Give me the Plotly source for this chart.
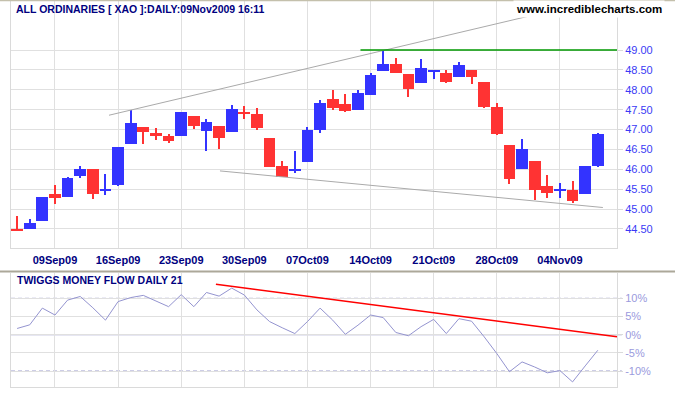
import plotly.graph_objects as go

# ---------------- data ----------------
dates = ["04Sep09", "07Sep09", "08Sep09", "09Sep09", "10Sep09", "11Sep09",
         "14Sep09", "15Sep09", "16Sep09", "17Sep09", "18Sep09",
         "21Sep09", "22Sep09", "23Sep09", "24Sep09", "25Sep09",
         "28Sep09", "29Sep09", "30Sep09", "01Oct09", "02Oct09",
         "05Oct09", "06Oct09", "07Oct09", "08Oct09", "09Oct09",
         "12Oct09", "13Oct09", "14Oct09", "15Oct09", "16Oct09",
         "19Oct09", "20Oct09", "21Oct09", "22Oct09", "23Oct09",
         "26Oct09", "27Oct09", "28Oct09", "29Oct09", "30Oct09",
         "02Nov09", "03Nov09", "04Nov09", "05Nov09", "06Nov09", "09Nov09"]

open_ = [44.50, 44.50, 44.69, 45.38, 45.31, 45.82, 46.01, 45.46, 45.61, 46.64,
         47.07, 46.91, 46.85, 46.84, 47.34, 46.97, 47.09, 46.94, 47.45, 47.39,
         46.79, 46.09, 45.96, 46.19, 46.99, 47.77, 47.64, 47.49, 47.87, 48.47,
         48.65, 48.40, 48.17, 48.45, 48.42, 48.32, 48.50, 48.20, 47.57, 46.61,
         46.01, 46.21, 45.58, 45.46, 45.48, 45.38, 46.09]
high = [44.83, 44.75, 45.31, 45.61, 45.81, 46.09, 46.01, 45.88, 46.56, 47.48,
        47.07, 47.04, 46.89, 47.44, 47.34, 47.27, 47.09, 47.62, 47.59, 47.54,
        46.79, 46.21, 46.46, 47.07, 47.74, 47.99, 47.89, 47.99, 48.42, 48.97,
        48.80, 48.40, 48.77, 48.50, 48.50, 48.70, 48.50, 48.20, 47.67, 46.61,
        46.76, 46.21, 45.86, 45.66, 45.71, 46.09, 46.91]
low = [44.44, 44.50, 44.69, 45.14, 45.31, 45.79, 45.26, 45.36, 45.58, 46.64,
       46.64, 46.74, 46.66, 46.84, 47.02, 46.46, 46.51, 46.94, 47.27, 46.99,
       46.07, 45.81, 45.91, 46.19, 46.91, 47.49, 47.44, 47.49, 47.87, 48.47,
       48.42, 47.82, 48.17, 48.27, 48.17, 48.32, 48.15, 47.54, 46.86, 45.63,
       46.01, 45.23, 45.28, 45.28, 45.16, 45.38, 46.06]
close = [44.46, 44.65, 45.31, 45.29, 45.78, 46.01, 45.39, 45.51, 46.56, 47.17,
         46.94, 46.84, 46.71, 47.44, 47.09, 47.19, 46.79, 47.52, 47.39, 47.04,
         46.07, 45.81, 46.01, 46.99, 47.67, 47.54, 47.47, 47.92, 48.37, 48.65,
         48.42, 48.02, 48.55, 48.50, 48.20, 48.62, 48.32, 47.57, 46.89, 45.76,
         46.51, 45.48, 45.41, 45.51, 45.21, 46.09, 46.89]

money_flow = [1.7, 2.7, 7.3, 5.4, 9.5, 10.5, 7.4, 4.0, 9.1, 10.2,
              10.8, 9.3, 7.7, 11.0, 7.7, 11.6, 10.6, 12.8, 10.9, 6.8,
              3.6, 1.9, 0.3, 3.6, 7.3, 4.0, 0.1, 2.6, 5.4, 4.7,
              0.6, -0.3, 2.2, 4.2, 0.3, 4.4, 3.7, -0.6, -5.2, -10.2,
              -7.5, -8.9, -10.5, -9.9, -13.0, -8.6, -4.3]

# trend lines drawn on the chart (bar index, value)
upper_trend_x = [7.28, 46.4]
upper_trend_y = [47.36, 50.29]
lower_trend_x = [16.07, 46.4]
lower_trend_y = [45.96, 45.04]
resist_x = [27.2, 47.52]
resist_y = [49.0, 49.0]
mf_trend_x = [15.75, 47.52]
mf_trend_y = [13.85, -0.6]

price_ticks = [44.5, 45.0, 45.5, 46.0, 46.5, 47.0, 47.5, 48.0, 48.5, 49.0]
mf_ticks = [-10, -5, 0, 5, 10]
mf_tick_text = ["-10%", "-5%", "0%", "5%", "10%"]
date_tick_labels = ["09Sep09", "16Sep09", "23Sep09", "30Sep09", "07Oct09",
                    "14Oct09", "21Oct09", "28Oct09", "04Nov09"]

# ---------------- figure ----------------
BLUE = "#3333FF"
RED = "#FF3333"
GRID = "#E0E0E0"
FONT = "Liberation Sans, Arial, sans-serif"

idx = list(range(len(dates)))
date_tick_vals = [dates.index(d) for d in date_tick_labels]
colors = [BLUE if c >= o else RED for o, c in zip(open_, close)]
body_base = [min(o, c) for o, c in zip(open_, close)]
body_h = [max(abs(c - o), 0.045) for o, c in zip(open_, close)]
wick_h = [h - l for h, l in zip(high, low)]

fig = go.Figure()
fig.add_trace(go.Bar(x=idx, y=wick_h, base=low, width=0.16,
                     marker=dict(color=colors, line=dict(width=0)),
                     xaxis="x", yaxis="y", hoverinfo="skip"))
fig.add_trace(go.Bar(x=idx, y=body_h, base=body_base, width=0.93,
                     marker=dict(color=colors, line=dict(width=0)),
                     xaxis="x", yaxis="y"))
fig.add_trace(go.Scatter(x=upper_trend_x, y=upper_trend_y, mode="lines",
                         line=dict(color="#AAAAAA", width=1), xaxis="x", yaxis="y"))
fig.add_trace(go.Scatter(x=lower_trend_x, y=lower_trend_y, mode="lines",
                         line=dict(color="#AAAAAA", width=1), xaxis="x", yaxis="y"))
fig.add_trace(go.Scatter(x=resist_x, y=resist_y, mode="lines",
                         line=dict(color="#009900", width=1.3), xaxis="x", yaxis="y"))

fig.add_trace(go.Scatter(x=idx, y=money_flow, mode="lines",
                         line=dict(color="#9494D0", width=1), xaxis="x2", yaxis="y2"))
fig.add_trace(go.Scatter(x=mf_trend_x, y=mf_trend_y, mode="lines",
                         line=dict(color="#FF0000", width=1.5), xaxis="x2", yaxis="y2"))

H = 395.0
W = 675.0
L, R = 11, 58
xr = [-0.483, 47.52]

fig.update_layout(
    width=675, height=395,
    margin=dict(l=L, r=R, t=0, b=0),
    paper_bgcolor="white", plot_bgcolor="white",
    showlegend=False, barmode="overlay", bargap=0,
    font=dict(family=FONT, size=11),
    xaxis=dict(domain=[0, 1], range=xr, anchor="y", tickvals=date_tick_vals,
               ticktext=date_tick_labels, ticks="", showgrid=True,
               gridcolor=GRID, gridwidth=1, showline=True, linecolor="#DADADA",
               linewidth=1, zeroline=False, automargin=False,
               tickfont=dict(family=FONT, size=11, color="#000080", weight="bold"),
               ticklabelstandoff=2),
    yaxis=dict(domain=[1 - 248 / H, 1 - 1 / H], range=[44.022, 50.232], side="right",
               anchor="x", tickvals=price_ticks,
               ticktext=["%.2f" % v for v in price_ticks],
               ticks="outside", ticklen=5, tickcolor="#DADADA",
               showgrid=True, gridcolor=GRID, gridwidth=1,
               showline=True, mirror=True, linecolor="#DADADA", linewidth=1,
               zeroline=False, automargin=False,
               tickfont=dict(family=FONT, size=11, color="#3A3AF5")),
    xaxis2=dict(domain=[0, 1], range=xr, anchor="y2", matches="x",
                tickvals=date_tick_vals, showticklabels=False, ticks="",
                showgrid=True, gridcolor=GRID, gridwidth=1, showline=True,
                linecolor="#DADADA", linewidth=1, zeroline=False, automargin=False),
    yaxis2=dict(domain=[1 - 387 / H, 1 - 273 / H], range=[-14.40, 16.96],
                side="right", anchor="x2", tickvals=mf_ticks, ticktext=mf_tick_text,
                ticks="outside", ticklen=5, tickcolor="#DADADA",
                showgrid=True, gridcolor=GRID, gridwidth=1,
                showline=True, mirror=True, linecolor="#DADADA", linewidth=1,
                zeroline=False, automargin=False,
                tickfont=dict(family=FONT, size=11, color="#9A9ADD")),
)

# indicator reference levels
for lvl, dash in [(10, "4px,3px"), (-10, "4px,3px"), (0, "solid")]:
    fig.add_shape(type="line", xref="x2 domain", yref="y2", x0=0, x1=1.008,
                  y0=lvl, y1=lvl, line=dict(color="#9A9ACC", width=1.2 if lvl == 0 else 1,
                                            dash=dash), layer="below")

pw = W - L - R
# top border & panel separator
fig.add_shape(type="line", xref="paper", yref="paper", x0=-L / pw, x1=(W - L) / pw,
              y0=1 - 0.5 / H, y1=1 - 0.5 / H, line=dict(color="#C4C0AC", width=1.5))
fig.add_shape(type="line", xref="paper", yref="paper", x0=-L / pw, x1=(W - L) / pw,
              y0=1 - 271.5 / H, y1=1 - 271.5 / H, line=dict(color="#ACA899", width=2))

fig.add_annotation(xref="paper", yref="paper", x=0, y=1 - 8.5 / H, xanchor="left",
                   yanchor="middle", xshift=3, showarrow=False,
                   text="<b>ALL ORDINARIES [ XAO ]:DAILY:09Nov2009 16:11</b>",
                   font=dict(family=FONT, size=10.5, color="#000080"))
fig.add_annotation(xref="paper", yref="paper", x=(665 - L) / pw, y=1 - 8.5 / H,
                   xanchor="right", yanchor="middle", showarrow=False,
                   text="<b>www.incrediblecharts.com</b>", bgcolor="white", borderpad=2,
                   font=dict(family=FONT, size=11.5, color="#000000"))
fig.add_annotation(xref="paper", yref="paper", x=0, y=1 - 280 / H, xanchor="left",
                   yanchor="middle", xshift=4, showarrow=False,
                   text="<b>TWIGGS MONEY FLOW DAILY 21</b>",
                   font=dict(family=FONT, size=10.5, color="#000080"))

fig.write_html("out.html", config={"displayModeBar": False},
               post_script="document.body.style.margin='0';document.body.style.padding='0';")
